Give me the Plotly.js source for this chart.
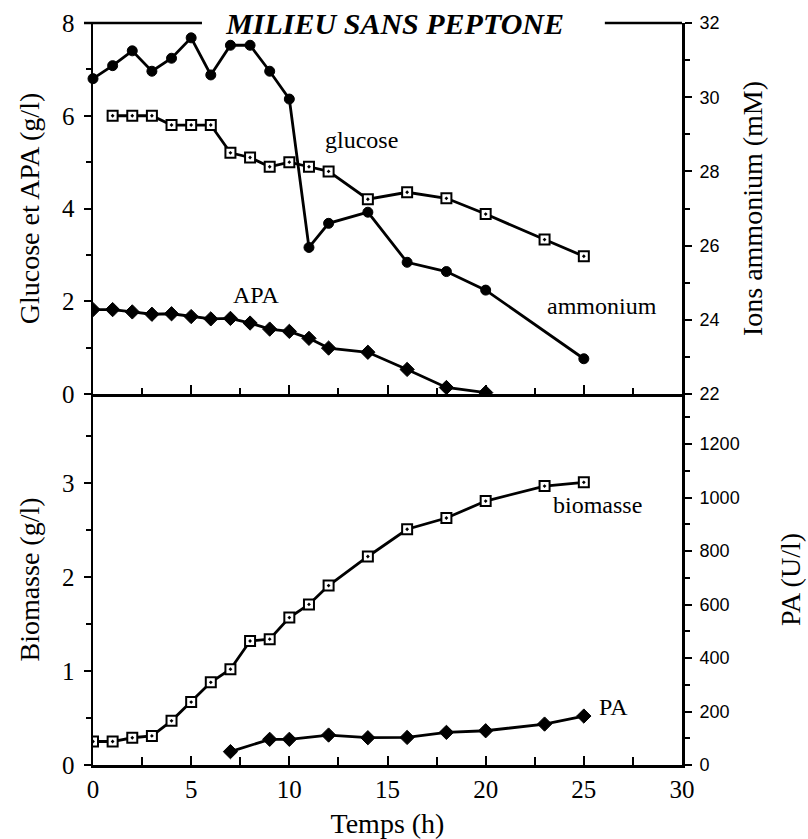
<!DOCTYPE html>
<html>
<head>
<meta charset="utf-8">
<script src="https://cdn.plot.ly/plotly-3.0.1.min.js"></script>
<style>html,body{margin:0;padding:0;background:#fff;}#chart{width:808px;height:839px;}</style>
</head>
<body>
<div id="chart"></div>
<script>
// ---- data ----
const timeGlucose = [1,2,3,4,5,6,7,8,9,10,11,12,14,16,18,20,23,25];
const glucose     = [6.0,6.0,6.0,5.8,5.8,5.8,5.2,5.1,4.9,5.0,4.9,4.8,4.2,4.35,4.22,3.88,3.33,2.97];

const timeAmmonium = [0,1,2,3,4,5,6,7,8,9,10,11,12,14,16,18,20,25];
const ammonium     = [30.5,30.85,31.25,30.7,31.05,31.6,30.6,31.4,31.4,30.7,29.95,25.95,26.6,26.9,25.55,25.3,24.8,22.95];

const timeAPA = [0,1,2,3,4,5,6,7,8,9,10,11,12,14,16,18,20];
const apa     = [1.82,1.82,1.77,1.72,1.73,1.67,1.62,1.63,1.53,1.40,1.35,1.20,0.99,0.90,0.53,0.14,0.03];

const timeBiomasse = [0,1,2,3,4,5,6,7,8,9,10,11,12,14,16,18,20,23,25];
const biomasse     = [0.25,0.25,0.29,0.31,0.47,0.67,0.88,1.02,1.32,1.34,1.57,1.71,1.91,2.22,2.51,2.63,2.81,2.97,3.01];

const timePA = [7,9,10,12,14,16,18,20,23,25];
const pa     = [50,96,96,112,102,103,122,128,153,183];

const xTickVals = [0,5,10,15,20,25,30];

// ---- styles ----
const serif = 'Liberation Serif, Times New Roman, serif';
const sans = 'Liberation Sans, Arial, sans-serif';
const black = '#000';
const lineStyle = {color: black, width: 2.8};
const squareMarker = {symbol: 'square-dot', size: 10, color: '#fff', line: {color: black, width: 2}};
const diamondMarker = {symbol: 'diamond', size: 11, color: black, line: {color: black, width: 1}};
const circleMarker = {symbol: 'circle', size: 10, color: black, line: {color: black, width: 1}};

const traces = [
  {x: timeGlucose, y: glucose, xaxis: 'x2', yaxis: 'y3', mode: 'lines+markers', name: 'glucose', line: lineStyle, marker: squareMarker},
  {x: timeAPA, y: apa, xaxis: 'x2', yaxis: 'y3', mode: 'lines+markers', name: 'APA', line: lineStyle, marker: diamondMarker},
  {x: timeAmmonium, y: ammonium, xaxis: 'x2', yaxis: 'y4', mode: 'lines+markers', name: 'ammonium', line: lineStyle, marker: circleMarker, cliponaxis: false},
  {x: timeBiomasse, y: biomasse, xaxis: 'x', yaxis: 'y', mode: 'lines+markers', name: 'biomasse', line: lineStyle, marker: squareMarker},
  {x: timePA, y: pa, xaxis: 'x', yaxis: 'y2', mode: 'lines+markers', name: 'PA', line: lineStyle, marker: diamondMarker}
];

const tickFontSerif = {family: serif, size: 25, color: black};
const tickFontSans = {family: sans, size: 18, color: black};
const titleFont = {family: serif, size: 28, color: black};

const layout = {
  width: 808, height: 839,
  margin: {l: 93, r: 126, t: 23, b: 74},
  paper_bgcolor: '#fff', plot_bgcolor: '#fff',
  showlegend: false,
  title: {text: '<b><i>MILIEU SANS PEPTONE</i></b>', font: {family: serif, size: 30, color: black},
          x: 0.489, xref: 'container', xanchor: 'center', y: 0.972, yref: 'container', yanchor: 'middle'},
  xaxis: {
    domain: [0, 1], anchor: 'y', range: [0, 30],
    tickvals: xTickVals, ticks: 'inside', ticklen: 9, tickwidth: 2, tickcolor: black,
    minor: {dtick: 2.5, ticks: 'inside', ticklen: 8, tickwidth: 2, tickcolor: black},
    showline: true, linewidth: 2.5, linecolor: black, showgrid: false, zeroline: false,
    tickfont: tickFontSerif, ticklabelstandoff: 0,
    title: {text: 'Temps (h)', font: titleFont, standoff: 12}
  },
  xaxis2: {
    domain: [0, 1], anchor: 'y3', range: [0, 30], matches: 'x',
    tickvals: xTickVals, ticks: 'inside', ticklen: 9, tickwidth: 2, tickcolor: black,
    minor: {dtick: 2.5, ticks: 'inside', ticklen: 6, tickwidth: 2, tickcolor: black},
    showticklabels: false,
    showline: true, linewidth: 2.5, linecolor: black, showgrid: false, zeroline: false
  },
  yaxis: {
    domain: [0, 0.5], anchor: 'x', range: [0, 3.95],
    tickvals: [0, 1, 2, 3], ticks: 'outside', ticklen: 7, tickwidth: 2, tickcolor: black,
    minor: {dtick: 0.5, ticks: 'outside', ticklen: 5, tickwidth: 2, tickcolor: black},
    showline: true, linewidth: 2.5, linecolor: black, showgrid: false, zeroline: false,
    tickfont: tickFontSerif, ticklabelstandoff: 4,
    title: {text: 'Biomasse (g/l)', font: titleFont, standoff: 14}
  },
  yaxis2: {
    overlaying: 'y', side: 'right', anchor: 'x', range: [0, 1387],
    tickvals: [0, 200, 400, 600, 800, 1000, 1200], ticks: 'outside', ticklen: 7, tickwidth: 2, tickcolor: black,
    minor: {dtick: 100, ticks: 'outside', ticklen: 5, tickwidth: 2, tickcolor: black},
    showline: true, linewidth: 3, linecolor: black, showgrid: false, zeroline: false,
    tickfont: tickFontSans, ticklabelstandoff: 4,
    title: {text: 'PA (U/l)', font: titleFont, standoff: 42}
  },
  yaxis3: {
    domain: [0.5, 1], anchor: 'x2', range: [0, 8],
    tickvals: [0, 2, 4, 6, 8], ticks: 'outside', ticklen: 7, tickwidth: 2, tickcolor: black,
    minor: {dtick: 1, ticks: 'outside', ticklen: 5, tickwidth: 2, tickcolor: black},
    showline: true, linewidth: 2.5, linecolor: black, showgrid: false, zeroline: false,
    tickfont: tickFontSerif, ticklabelstandoff: 4,
    title: {text: 'Glucose et APA (g/l)', font: titleFont, standoff: 14}
  },
  yaxis4: {
    overlaying: 'y3', side: 'right', anchor: 'x2', range: [22, 32],
    tickvals: [22, 24, 26, 28, 30, 32], ticks: 'outside', ticklen: 7, tickwidth: 2, tickcolor: black,
    minor: {dtick: 1, ticks: 'outside', ticklen: 5, tickwidth: 2, tickcolor: black},
    showline: true, linewidth: 3, linecolor: black, showgrid: false, zeroline: false,
    tickfont: tickFontSans, ticklabelstandoff: 4,
    title: {text: 'Ions ammonium (mM)', font: titleFont, standoff: 24}
  },
  shapes: [
    {type: 'line', xref: 'paper', yref: 'paper', x0: -0.0153, x1: 0.185, y0: 1, y1: 1, line: {color: black, width: 2.5}},
    {type: 'line', xref: 'paper', yref: 'paper', x0: 0.869, x1: 1, y0: 1, y1: 1, line: {color: black, width: 2.5}}
  ],
  annotations: [
    {text: 'glucose', xref: 'x2', yref: 'y3', x: 13.65, y: 5.48, showarrow: false, font: {family: serif, size: 24, color: black}},
    {text: 'APA', xref: 'x2', yref: 'y3', x: 8.3, y: 2.13, showarrow: false, font: {family: serif, size: 24, color: black}},
    {text: 'ammonium', xref: 'x2', yref: 'y3', x: 25.9, y: 1.9, showarrow: false, font: {family: serif, size: 24, color: black}},
    {text: 'biomasse', xref: 'x', yref: 'y', x: 25.7, y: 2.77, showarrow: false, font: {family: serif, size: 24, color: black}},
    {text: 'PA', xref: 'x', yref: 'y', x: 26.5, y: 0.62, showarrow: false, font: {family: serif, size: 24, color: black}}
  ]
};

Plotly.newPlot('chart', traces, layout, {displayModeBar: false, staticPlot: true});
</script>
</body>
</html>
